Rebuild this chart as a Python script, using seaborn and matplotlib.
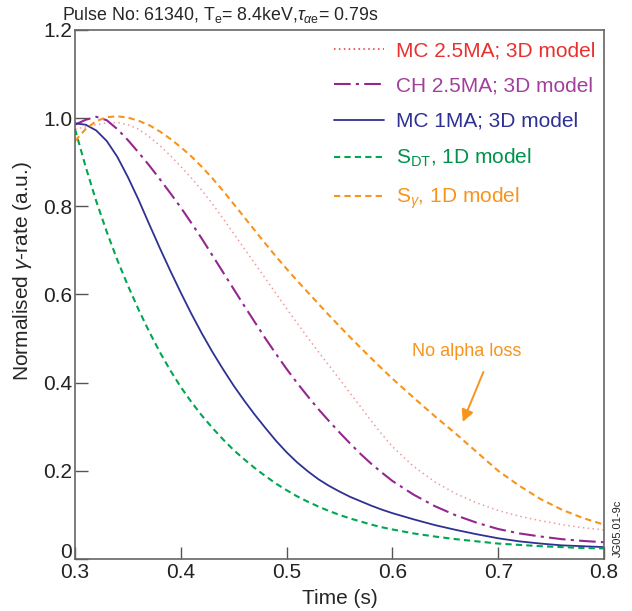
import numpy as np
import pandas as pd
import matplotlib
matplotlib.use("Agg")
import matplotlib.pyplot as plt
import matplotlib.transforms as mtransforms
import seaborn as sns

# time grid (s)
time = [0.30, 0.31, 0.32, 0.33, 0.34, 0.35, 0.36, 0.37, 0.38, 0.39,
        0.40, 0.41, 0.42, 0.43, 0.44, 0.45, 0.46, 0.47, 0.48, 0.49,
        0.50, 0.51, 0.52, 0.53, 0.54, 0.55, 0.56, 0.57, 0.58, 0.59,
        0.60, 0.62, 0.64, 0.66, 0.68, 0.70, 0.72, 0.74, 0.76, 0.78, 0.80]

mc_25 = [0.975, 0.980, 0.985, 0.989, 0.990, 0.985, 0.975, 0.958, 0.938, 0.915,
         0.890, 0.864, 0.836, 0.805, 0.772, 0.738, 0.704, 0.670, 0.636, 0.602,
         0.568, 0.535, 0.502, 0.470, 0.439, 0.408, 0.376, 0.345, 0.313, 0.283,
         0.255, 0.210, 0.175, 0.148, 0.127, 0.110, 0.097, 0.087, 0.078, 0.071, 0.066]
ch_25 = [0.985, 0.996, 1.003, 0.995, 0.975, 0.950, 0.922, 0.893, 0.862, 0.830,
         0.797, 0.762, 0.726, 0.688, 0.650, 0.612, 0.574, 0.537, 0.500, 0.465,
         0.431, 0.399, 0.369, 0.340, 0.313, 0.287, 0.262, 0.238, 0.216, 0.196,
         0.177, 0.146, 0.120, 0.099, 0.082, 0.068, 0.058, 0.051, 0.045, 0.041, 0.038]
mc_1 = [0.988, 0.985, 0.972, 0.948, 0.912, 0.866, 0.815, 0.760, 0.706, 0.654,
        0.604, 0.556, 0.511, 0.469, 0.430, 0.393, 0.359, 0.327, 0.297, 0.268,
        0.242, 0.219, 0.199, 0.181, 0.166, 0.153, 0.141, 0.131, 0.121, 0.112,
        0.104, 0.090, 0.077, 0.066, 0.056, 0.047, 0.040, 0.035, 0.031, 0.029, 0.027]
s_dt = [0.975, 0.890, 0.812, 0.742, 0.678, 0.620, 0.566, 0.516, 0.470, 0.428,
        0.390, 0.356, 0.325, 0.297, 0.271, 0.247, 0.226, 0.206, 0.188, 0.171,
        0.156, 0.142, 0.130, 0.119, 0.109, 0.100, 0.092, 0.085, 0.078, 0.072,
        0.067, 0.058, 0.051, 0.045, 0.040, 0.035, 0.032, 0.029, 0.027, 0.025, 0.024]
s_gamma = [0.948, 0.975, 0.993, 1.002, 1.004, 1.001, 0.994, 0.984, 0.970, 0.953,
           0.934, 0.913, 0.889, 0.863, 0.835, 0.805, 0.775, 0.745, 0.715, 0.686,
           0.658, 0.631, 0.605, 0.579, 0.553, 0.528, 0.503, 0.479, 0.455, 0.432,
           0.409, 0.366, 0.324, 0.284, 0.242, 0.200, 0.166, 0.136, 0.112, 0.093, 0.078]

labels = ["MC 2.5MA; 3D model", "CH 2.5MA; 3D model", "MC 1MA; 3D model",
          r"S$_{\rm DT}$, 1D model", r"S$_\gamma$, 1D model"]
line_colors = ["#f29a9a", "#93278f", "#2e3192", "#00a651", "#f7941d"]
text_colors = ["#e8312f", "#a0409c", "#2e3192", "#00924a", "#f7941d"]
styles = [(0, (1, 2.2)), (0, (8, 2.5, 1.5, 2.5)), "-", (0, (3, 2)), (0, (3, 2))]
widths = [1.1, 1.5, 1.3, 1.5, 1.5]

sns.set_style("ticks")
plt.rcParams["font.family"] = ["Liberation Sans", "DejaVu Sans"]
plt.rcParams["mathtext.fontset"] = "custom"
plt.rcParams["mathtext.rm"] = "Liberation Sans"
plt.rcParams["mathtext.it"] = "Liberation Sans:italic"
plt.rcParams["mathtext.sf"] = "Liberation Sans"

fig = plt.figure(figsize=(6.32, 6.11), dpi=100)
ax = fig.add_axes([0.1187, 0.0851, 0.837, 0.866])

series = [mc_25, ch_25, mc_1, s_dt, s_gamma]
for vals, lab, col, ls, lw in zip(series, labels, line_colors, styles, widths):
    df = pd.DataFrame({"time": time, "rate": vals})
    sns.lineplot(data=df, x="time", y="rate", ax=ax, color=col, linestyle=ls,
                 linewidth=lw, label=lab)

ax.set_xlim(0.3, 0.8)
ax.set_ylim(0, 1.2)
ax.set_xticks([0.3, 0.4, 0.5, 0.6, 0.7, 0.8])
ax.set_yticks([0, 0.2, 0.4, 0.6, 0.8, 1.0, 1.2])
ax.set_yticklabels(["0", "0.2", "0.4", "0.6", "0.8", "1.0", "1.2"])
ax.tick_params(direction="in", length=9, width=1, color="#555555", labelsize=15,
               labelcolor="#222222")
ax.tick_params(axis="y", pad=2)
ax.tick_params(axis="x", pad=3)
for sp in ax.spines.values():
    sp.set_color("#666666")
    sp.set_linewidth(1.2)

# lift the "0" label a little so it clears the 0.3 label
zero_lbl = ax.get_yticklabels()[0]
zero_lbl.set_transform(zero_lbl.get_transform()
                       + mtransforms.ScaledTranslation(0, 6 / 72, fig.dpi_scale_trans))

ax.set_xlabel("Time (s)", fontsize=15, labelpad=5)
ax.set_ylabel(r"Normalised $\gamma$-rate (a.u.)", fontsize=15)
ax.yaxis.set_label_coords(-0.078, 0.545)
ax.set_title(r"Pulse No: 61340, T$_{\rm e}$= 8.4keV,$\tau_{\alpha\rm e}$= 0.79s",
             loc="left", fontsize=12.8, pad=7, x=-0.025)

leg = ax.legend(loc="upper right", bbox_to_anchor=(1.0, 0.994), frameon=False,
                fontsize=15, handlelength=2.4, labelspacing=0.78, borderaxespad=0.0,
                handletextpad=0.6)
for txt, tc in zip(leg.get_texts(), text_colors):
    txt.set_color(tc)
for h, col in zip(leg.get_lines(), ["#e8312f", "#93278f", "#2e3192", "#00a651", "#f7941d"]):
    h.set_color(col)

ax.text(0.670, 0.47, "No alpha loss", color="#f7941d", fontsize=13, ha="center", va="center")
ax.annotate("", xy=(0.6655, 0.305), xytext=(0.687, 0.43),
            arrowprops=dict(arrowstyle="-|>", color="#f7941d", lw=1.4,
                            mutation_scale=18))

fig.text(0.978, 0.135, "JG05.01-9c", rotation=90, fontsize=8, ha="center", va="center",
         color="#222222")

fig.savefig("out.png", dpi=100)
